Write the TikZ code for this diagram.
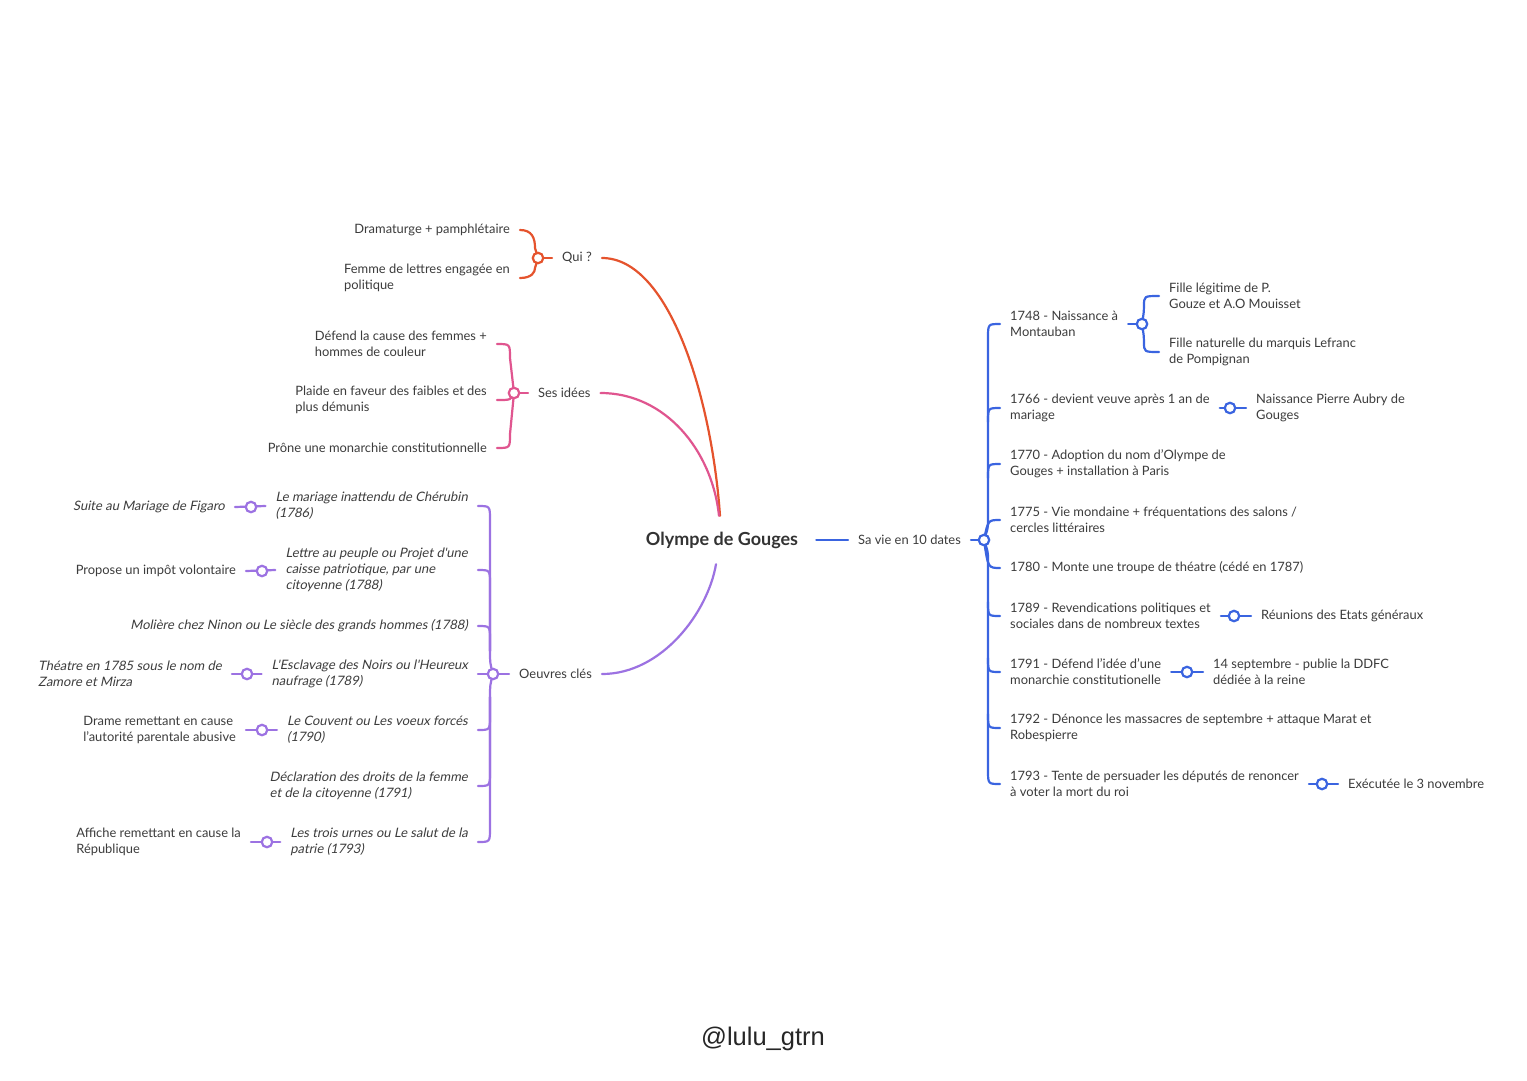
\documentclass[tikz,border=0pt]{standalone}
\usepackage{fontspec}
\setmainfont{Lato}
\newfontfamily\slfont{Lato}[FakeSlant=0.2]
\newfontfamily\wmfont{Liberation Sans}
\definecolor{txt}{HTML}{3C3C3C}
\definecolor{txtb}{HTML}{333333}
\definecolor{cred}{HTML}{E5532D}
\definecolor{cpink}{HTML}{E0558F}
\definecolor{cpurp}{HTML}{9C72E2}
\definecolor{cblue}{HTML}{3A64E0}
\tikzset{
  tx/.style={font=\fontsize{12.9}{16}\selectfont, text=txt, inner xsep=10pt, inner ysep=2pt, align=left},
  ti/.style={tx, font=\slfont\fontsize{13}{16}\selectfont},
  conn/.style={line width=2.2pt, line cap=round},
  jn/.style={circle, draw, fill=white, line width=2.2pt, minimum size=10.5pt, inner sep=0pt},
}
\begin{document}
\begin{tikzpicture}[x=1pt,y=-1pt]
\path[fill=white,use as bounding box] (0,0) rectangle (1527,1080);

% centre
\node[font=\fontsize{18}{21}\selectfont\bfseries, text=txtb, minimum height=48pt, inner xsep=18pt] (og) at (722,540) {Olympe de Gouges};

% ---------- Qui ?
\node[tx, anchor=west] (qui) at (552,258) {Qui ?};
\node[tx, anchor=east] (q1) at (520,230) {Dramaturge + pamphlétaire};
\node[tx, anchor=east] (q2) at (520,278) {Femme de lettres engagée en\\politique};
\draw[conn,cred] (qui.east) .. controls (670,258) and (712,400) .. ([xshift=-2]og.north);
\draw[conn,cred] (qui.west) -- (538,258);
\draw[conn,cred] (q1.east) .. controls (532,230) and (535,238) .. (535,248) -- (538,258);
\draw[conn,cred] (q2.east) .. controls (532,278) and (535,272) .. (535,268) -- (538,258);
\node[jn, draw=cred] (qj) at (538,258) {};

% ---------- Ses idees
\node[tx, anchor=west] (ses) at (528,393) {Ses idées};
\node[tx, anchor=east] (s1) at (497,344) {Défend la cause des femmes +\\hommes de couleur};
\node[tx, anchor=east] (s2) at (497,400) {Plaide en faveur des faibles et des\\plus démunis};
\node[tx, anchor=east] (s3) at (497,448) {Prône une monarchie constitutionnelle};
\draw[conn,cpink] (ses.east) .. controls (665,393) and (712,450) .. ([xshift=-3]og.north);
\draw[conn,cpink] (ses.west) -- (514,393);
\draw[conn,cpink] (s1.east) .. controls (510,344) .. (510,358) -- (514,393);
\draw[conn,cpink] (s2.east) .. controls (511,400) .. (514,393);
\draw[conn,cpink] (s3.east) .. controls (510,448) .. (510,434) -- (514,393);
\node[jn, draw=cpink] (sj) at (514,393) {};

% ---------- Oeuvres cles
\node[tx, anchor=west] (oeu) at (509,674) {Oeuvres clés};
\node[ti, anchor=east] (o1) at (478,506) {Le mariage inattendu de Chérubin\\(1786)};
\node[ti, anchor=east] (o2) at (478,570) {Lettre au peuple ou Projet d'une\\caisse patriotique, par une\\citoyenne (1788)};
\node[ti, anchor=east] (o3) at (478,626) {Molière chez Ninon ou Le siècle des grands hommes (1788)};
\node[ti, anchor=east] (o4) at (478,674) {L'Esclavage des Noirs ou l'Heureux\\naufrage (1789)};
\node[ti, anchor=east] (o5) at (478,730) {Le Couvent ou Les voeux forcés\\(1790)};
\node[ti, anchor=east] (o6) at (478,786) {Déclaration des droits de la femme\\et de la citoyenne (1791)};
\node[ti, anchor=east] (o7) at (478,842) {Les trois urnes ou Le salut de la\\patrie (1793)};
\draw[conn,cpurp] (oeu.east) .. controls (662,674) and (708,612) .. ([xshift=-6]og.south);
\draw[conn,cpurp] (oeu.west) -- (493,674);
\draw[conn,cpurp] (o1.east) .. controls (490,506) .. (490,520) -- (490,651) .. controls (490,663) .. (493,674);
\draw[conn,cpurp] (o2.east) .. controls (490,570) .. (490,584) -- (490,651);
\draw[conn,cpurp] (o3.east) .. controls (490,626) .. (490,640) -- (490,651);
\draw[conn,cpurp] (o4.east) -- (493,674);
\draw[conn,cpurp] (o5.east) .. controls (490,730) .. (490,716) -- (490,697) .. controls (490,685) .. (493,674);
\draw[conn,cpurp] (o6.east) .. controls (490,786) .. (490,772) -- (490,697);
\draw[conn,cpurp] (o7.east) .. controls (490,842) .. (490,828) -- (490,697);
\node[jn, draw=cpurp] (oj) at (493,674) {};

% grandchildren of Oeuvres
\node[ti, anchor=east] (g1) at (235,507) {Suite au Mariage de Figaro};
\node[tx, anchor=east] (g2) at (246,571) {Propose un impôt volontaire};
\node[ti, anchor=east] (g4) at (232,674) {Théatre en 1785 sous le nom de\\Zamore et Mirza};
\node[tx, anchor=east] (g5) at (246,730) {Drame remettant en cause\\l'autorité parentale abusive};
\node[tx, anchor=east] (g7) at (251,842) {Affiche remettant en cause la\\République};
\draw[conn,cpurp] (g1.east) -- (o1.west);
\draw[conn,cpurp] (g2.east) -- (o2.west);
\draw[conn,cpurp] (g4.east) -- (o4.west);
\draw[conn,cpurp] (g5.east) -- (o5.west);
\draw[conn,cpurp] (g7.east) -- (o7.west);
\node[jn, draw=cpurp] (g1j) at (251,507) {};
\node[jn, draw=cpurp] (g2j) at (262,571) {};
\node[jn, draw=cpurp] (g4j) at (247,674) {};
\node[jn, draw=cpurp] (g5j) at (262,730) {};
\node[jn, draw=cpurp] (g7j) at (267,842) {};

% ---------- Sa vie en 10 dates
\node[tx, anchor=west] (sa) at (848,540) {Sa vie en 10 dates};
\draw[conn,cblue] (og.east) -- (sa.west);
\draw[conn,cblue] (sa.east) -- (984,540);
\node[tx, anchor=west] (b1) at (1000,324) {1748 - Naissance à\\Montauban};
\node[tx, anchor=west] (b2) at (1000,408) {1766 - devient veuve après 1 an de\\mariage};
\node[tx, anchor=west] (b3) at (1000,464) {1770 - Adoption du nom d'Olympe de\\Gouges + installation à Paris};
\node[tx, anchor=west] (b4) at (1000,520) {1775 - Vie mondaine + fréquentations des salons /\\cercles littéraires};
\node[tx, anchor=west] (b5) at (1000,568) {1780 - Monte une troupe de théatre (cédé en 1787)};
\node[tx, anchor=west] (b6) at (1000,616) {1789 - Revendications politiques et\\sociales dans de nombreux textes};
\node[tx, anchor=west] (b7) at (1000,672) {1791 - Défend l'idée d'une\\monarchie constitutionelle};
\node[tx, anchor=west] (b8) at (1000,728) {1792 - Dénonce les massacres de septembre + attaque Marat et\\Robespierre};
\node[tx, anchor=west] (b9) at (1000,784) {1793 - Tente de persuader les députés de renoncer\\à voter la mort du roi};
\draw[conn,cblue] (984,540) .. controls (988,528) .. (988,520) -- (988,338) .. controls (988,324) .. (b1.west);
\draw[conn,cblue] (988,422) .. controls (988,408) .. (b2.west);
\draw[conn,cblue] (988,478) .. controls (988,464) .. (b3.west);
\draw[conn,cblue] (984,540) .. controls (988,520) .. (b4.west);
\draw[conn,cblue] (984,540) .. controls (988,568) .. (b5.west);
\draw[conn,cblue] (984,540) .. controls (988,552) .. (988,560) -- (988,770) .. controls (988,784) .. (b9.west);
\draw[conn,cblue] (988,602) .. controls (988,616) .. (b6.west);
\draw[conn,cblue] (988,658) .. controls (988,672) .. (b7.west);
\draw[conn,cblue] (988,714) .. controls (988,728) .. (b8.west);
\node[jn, draw=cblue] (bj) at (984,540) {};

% grandchildren, blue
\node[tx, anchor=west] (b1a) at (1159,296) {Fille légitime de P.\\Gouze et A.O Mouisset};
\node[tx, anchor=west] (b1b) at (1159,352) {Fille naturelle du marquis Lefranc\\de Pompignan};
\draw[conn,cblue] (b1.east) -- (1142,324);
\draw[conn,cblue] (1142,324) .. controls (1144,311) .. (1144,306) .. controls (1144,296) .. (b1a.west);
\draw[conn,cblue] (1142,324) .. controls (1144,337) .. (1144,342) .. controls (1144,352) .. (b1b.west);
\node[jn, draw=cblue] (b1j) at (1142,324) {};

\node[tx, anchor=west] (b2a) at (1246,408) {Naissance Pierre Aubry de\\Gouges};
\draw[conn,cblue] (b2.east) -- (b2a.west);
\node[jn, draw=cblue] (b2j) at (1230,408) {};

\node[tx, anchor=west] (b6a) at (1251,616) {Réunions des Etats généraux};
\draw[conn,cblue] (b6.east) -- (b6a.west);
\node[jn, draw=cblue] (b6j) at (1234,616) {};

\node[tx, anchor=west] (b7a) at (1203,672) {14 septembre - publie la DDFC\\dédiée à la reine};
\draw[conn,cblue] (b7.east) -- (b7a.west);
\node[jn, draw=cblue] (b7j) at (1187,672) {};

\node[tx, anchor=west] (b9a) at (1338,784) {Exécutée le 3 novembre};
\draw[conn,cblue] (b9.east) -- (b9a.west);
\node[jn, draw=cblue] (b9j) at (1322,784) {};

% watermark
\node[font=\wmfont\fontsize{25.5}{29}\selectfont, text=black!85] (wm) at (763,1039) {@lulu\_gtrn};
\end{tikzpicture}
\end{document}
